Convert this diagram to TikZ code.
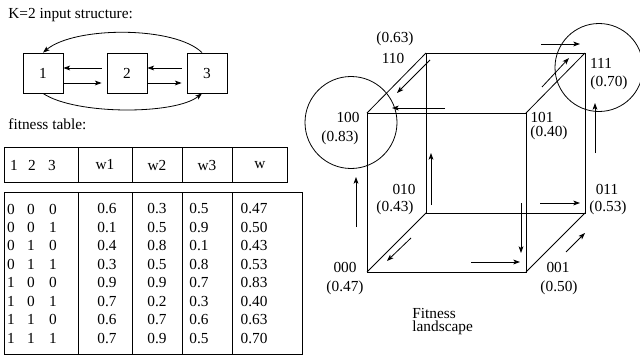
\documentclass[tikz,border=0pt]{standalone}
\usepackage{fontspec}
\setmainfont{Liberation Serif}
\usetikzlibrary{arrows.meta}
\begin{document}
\begin{tikzpicture}[x=0.75pt,y=-0.75pt,
  font=\fontsize{11.5}{13.5}\selectfont,
  line width=0.6pt,
  arr/.style={-{Stealth[length=5pt,width=3.6pt,inset=1.2pt]}},
  gbox/.style={draw, minimum size=30pt, inner sep=0pt},
  lbl/.style={inner sep=0pt, anchor=center},
  lft/.style={inner sep=0pt, anchor=west}]
\useasboundingbox (0,0) rectangle (640,357);

% ---------- input structure ----------
\node[lft, anchor=base west] (title) at (8,18) {K=2 input structure:};
\node[gbox] (b1) at (43,73) {1};
\node[gbox] (b2) at (127,73) {2};
\node[gbox] (b3) at (207,73) {3};
\draw[arr] ([xshift=-3.75pt,yshift=3.75pt]b2.west) -- ([yshift=3.75pt]b1.east);
\draw[arr] ([yshift=-7.5pt]b1.east) -- ([xshift=-3.75pt,yshift=-7.5pt]b2.west);
\draw[arr] ([xshift=-3.75pt,yshift=3.75pt]b3.west) -- ([yshift=3.75pt]b2.east);
\draw[arr] ([yshift=-7.5pt]b2.east) -- ([xshift=-3.75pt,yshift=-7.5pt]b3.west);
\draw[arr] ([xshift=-3.75pt]b3.north) .. controls (175,26) and (75,26) .. (b1.north);
\draw[arr] (b1.south) .. controls (75,115) and (175,115) .. ([xshift=-3.75pt]b3.south);

% ---------- fitness table ----------
\node[lft, anchor=base west] (ftitle) at (8,129) {fitness table:};
\draw (4,147) rectangle (287,182);
\foreach \xx in {78,132,182,232} \draw (\xx,147) -- (\xx,182);
\node[lbl] (h1) at (14,165) {1};
\node[lbl] (h2) at (32,165) {2};
\node[lbl] (h3) at (52,165) {3};
\node[lbl] (hw1) at (105,165) {w1};
\node[lbl] (hw2) at (157,165) {w2};
\node[lbl] (hw3) at (207,165) {w3};
\node[lbl] (hw) at (260,165) {w};
\draw (4,192) rectangle (302,354);
\foreach \xx in {78,132,182,232} \draw (\xx,192) -- (\xx,354);
\foreach \a/\b/\c/\wa/\wb/\wc/\w [count=\i from 0] in
  {0/0/0/0.6/0.3/0.5/0.47, 0/0/1/0.1/0.5/0.9/0.50, 0/1/0/0.4/0.8/0.1/0.43,
   0/1/1/0.3/0.5/0.8/0.53, 1/0/0/0.9/0.9/0.7/0.83, 1/0/1/0.7/0.2/0.3/0.40,
   1/1/0/0.6/0.7/0.6/0.63, 1/1/1/0.7/0.9/0.5/0.70} {
  \pgfmathsetmacro{\yy}{209+18.43*\i}
  \node[lbl] (ra\i) at (11,\yy) {\a};
  \node[lbl] (rb\i) at (31,\yy) {\b};
  \node[lbl] (rc\i) at (53,\yy) {\c};
  \node[lbl] (rw1\i) at (107,\yy) {\wa};
  \node[lbl] (rw2\i) at (157,\yy) {\wb};
  \node[lbl] (rw3\i) at (199,\yy) {\wc};
  \node[lbl] (rw\i) at (254,\yy) {\w};
}

% ---------- cube ----------
\coordinate (c000) at (367,272);
\coordinate (c001) at (526,272);
\coordinate (c010) at (426,213);
\coordinate (c011) at (585,213);
\coordinate (c100) at (367,113);
\coordinate (c101) at (526,113);
\coordinate (c110) at (426,53);
\coordinate (c111) at (585,53);
\draw (c000) -- (c001) -- (c101) -- (c100) -- cycle;
\draw (c010) -- (c011) -- (c111) -- (c110) -- cycle;
\draw (c000) -- (c010);
\draw (c001) -- (c011);
\draw (c100) -- (c110);
\draw (c101) -- (c111);

\draw (351,122.5) circle[radius=34.5pt];
\draw (599,67.5) circle[radius=33pt];

% arrows on the landscape
\draw[arr] (541,44) -- (580,44);
\draw[arr] (542,87) -- (569,58);
\draw[arr] (430,60) -- (397,93);
\draw[arr] (445,108) -- (392,108);
\draw[arr] (431,205) -- (431,153);
\draw[arr] (595,153) -- (595,103);
\draw[arr] (356,227) -- (356,177);
\draw[arr] (521,203) -- (521,253);
\draw[arr] (540,203) -- (580,203);
\draw[arr] (411,238) -- (387,261);
\draw[arr] (471,262) -- (520,262);
\draw[arr] (566,252) -- (585,233);

% vertex labels
\node[lbl] (l110f) at (395,39) {(0.63)};
\node[lbl] (l110) at (393,58) {110};
\node[lbl] (l100) at (348,117) {100};
\node[lbl] (l100f) at (340,138) {(0.83)};
\node[lbl] (l101) at (542,117) {101};
\node[lbl] (l101f) at (549,133) {(0.40)};
\node[lbl] (l111) at (601,63) {111};
\node[lbl] (l111f) at (609,83) {(0.70)};
\node[lbl] (l010) at (404,189) {010};
\node[lbl] (l010f) at (395,208) {(0.43)};
\node[lbl] (l011) at (607,189) {011};
\node[lbl] (l011f) at (608,208) {(0.53)};
\node[lbl] (l000) at (345,267) {000};
\node[lbl] (l000f) at (345,288) {(0.47)};
\node[lbl] (l001) at (558,267) {001};
\node[lbl] (l001f) at (559,288) {(0.50)};
\node[lft] (fl1) at (412,313) {Fitness};
\node[lft] (fl2) at (412,328) {landscape};
\end{tikzpicture}
\end{document}
